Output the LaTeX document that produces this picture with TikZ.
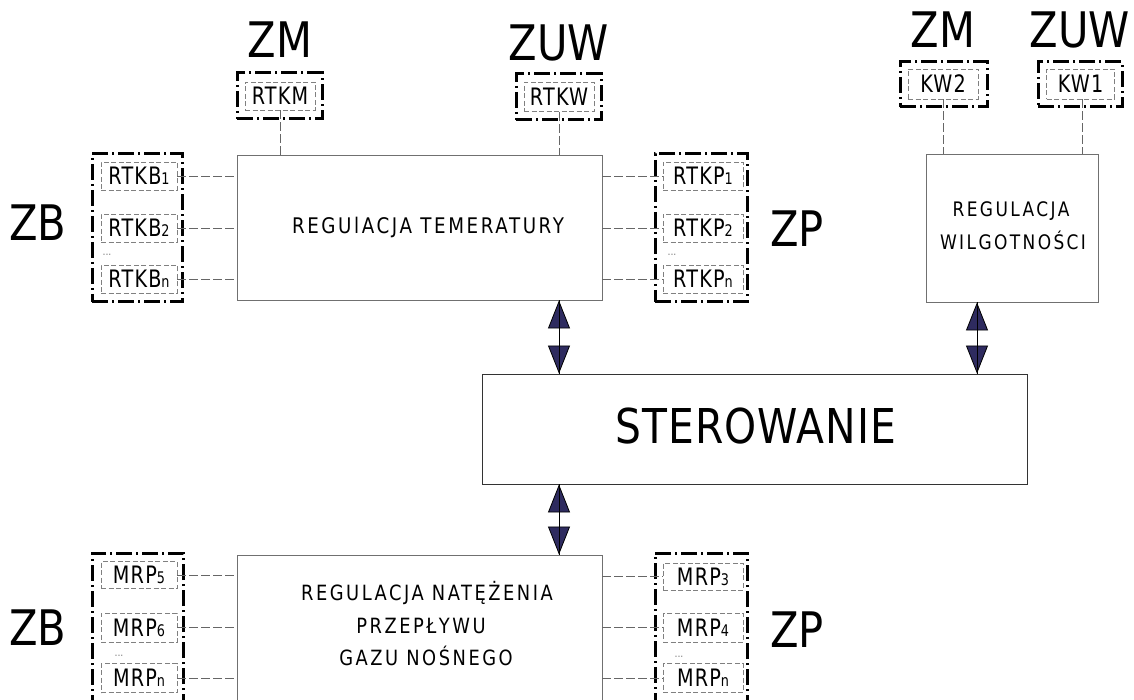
\documentclass[tikz,border=0pt]{standalone}
\usepackage{fontspec}
\setmainfont{DejaVu Sans}[FakeStretch=0.85]
\newfontfamily\spfont{DejaVu Sans}[FakeStretch=0.85,LetterSpace=12]
\newfontfamily\itfont{DejaVu Sans}[FakeStretch=0.8,LetterSpace=5]
\newfontfamily\stfont{DejaVu Sans}[FakeStretch=0.85,LetterSpace=2]
\usetikzlibrary{arrows.meta}
\definecolor{navyfill}{HTML}{2E2B5F}
\definecolor{boxgray}{HTML}{707070}
\newcommand\idx[1]{{\fontsize{16}{16}\selectfont #1}}
\newcommand\fsz[1]{\fontsize{#1}{#1}\selectfont}
\begin{document}
\begin{tikzpicture}[x=1pt,y=-1pt,
  mainbox/.style={draw=boxgray,line width=0.9pt,rectangle,inner sep=0pt},
  groupbox/.style={draw=black,line width=3pt,dash pattern=on 16pt off 4pt on 2pt off 4pt,inner sep=0pt},
  itembox/.style={draw=gray,line width=0.9pt,dash pattern=on 5pt off 2.5pt,inner sep=0pt,font=\itfont\fsz{24},text=black},
  link/.style={draw=gray!80!black,line width=0.8pt,dash pattern=on 9pt off 3pt},
  biglabel/.style={font=\fsz{49},anchor=base},
  midtext/.style={font=\spfont\fsz{21.5},anchor=base},
  dots/.style={font=\fsz{11},text=gray,inner sep=0pt},
  duplex/.style={line width=0.8pt,draw=black,{Triangle[length=28pt,width=22pt,fill=navyfill]}-{Triangle[length=28pt,width=22pt,fill=navyfill]}},
  thinline/.style={line width=0.8pt,draw=black}
]
\useasboundingbox (0,0) rectangle (1134,700);
\clip (0,0) rectangle (1134,700);

% main boxes
\node[mainbox,minimum width=365pt,minimum height=145pt] (temp) at (419.5,227.5) {};
\node[midtext] (temptxt) at (428,234) {REGUlACJA TEMERATURY};
\node[mainbox,minimum width=172pt,minimum height=148pt] (hum) at (1012,228) {};
\node[midtext,font=\spfont\fsz{20}] (hum1) at (1011,217) {REGULACJA};
\node[midtext,font=\spfont\fsz{20}] (hum2) at (1013,250) {WILGOTNOŚCI};
\node[mainbox,draw=black!80,minimum width=545pt,minimum height=110pt] (ster) at (754.5,429) {};
\node[font=\stfont\fsz{48},anchor=base] (stertxt) at (756,443) {STEROWANIE};
\node[mainbox,minimum width=365pt,minimum height=170pt] (nat) at (419.5,640) {};
\node[midtext,font=\spfont\fsz{21}] (nat1) at (427,600) {REGULACJA NATĘŻENIA};
\node[midtext,font=\spfont\fsz{21}] (nat2) at (421,633) {PRZEPŁYWU};
\node[midtext,font=\spfont\fsz{21}] (nat3) at (426,665) {GAZU NOŚNEGO};

% top small boxes
\node[groupbox,minimum width=85pt,minimum height=46pt] (rtkmg) at (279.5,96) {};
\node[itembox,minimum width=70pt,minimum height=28pt] (rtkm) at (280,96) {RTKM};
\node[biglabel] (zm1) at (280,58) {ZM};
\node[groupbox,minimum width=85pt,minimum height=46pt] (rtkwg) at (558.5,97) {};
\node[itembox,minimum width=70pt,minimum height=29pt] (rtkw) at (559,97) {RTKW};
\node[biglabel] (zuw1) at (559,61) {ZUW};
\node[groupbox,minimum width=87pt,minimum height=45pt] (kw2g) at (943.5,84.5) {};
\node[itembox,minimum width=70pt,minimum height=30pt] (kw2) at (943,84) {KW2};
\node[biglabel] (zm2) at (943,48) {ZM};
\node[groupbox,minimum width=84pt,minimum height=45pt] (kw1g) at (1080,84.5) {};
\node[itembox,minimum width=68pt,minimum height=30pt] (kw1) at (1080.5,84) {KW1};
\node[biglabel] (zuw2) at (1080,48) {ZUW};

\draw[link] (rtkm.south) -- (rtkm.south |- temp.north);
\draw[link] (rtkw.south) -- (rtkw.south |- temp.north);
\draw[link] (kw2.south) -- (kw2.south |- hum.north);
\draw[link] ([xshift=1.5pt]kw1.south) -- ([xshift=1.5pt]kw1.south |- hum.north);

% left temperature group
\node[groupbox,minimum width=90pt,minimum height=148pt] (zbg1) at (137,228) {};
\node[itembox,minimum width=76pt,minimum height=28pt] (b1) at (139,176) {RTKB\idx{1}};
\node[itembox,minimum width=76pt,minimum height=28pt] (b2) at (139,228) {RTKB\idx{2}};
\node[itembox,minimum width=76pt,minimum height=28pt] (bn) at (139,279) {RTKB\idx{n}};
\node[dots] (bd) at (107,255) {...};
\node[biglabel] (zb1) at (38,241) {ZB};
\foreach \n in {b1,b2,bn} \draw[link] (\n.east) -- (\n.east -| temp.west);

% right temperature group
\node[groupbox,minimum width=92pt,minimum height=148pt] (zpg1) at (701,228) {};
\node[itembox,minimum width=80pt,minimum height=28pt] (p1) at (703,176) {RTKP\idx{1}};
\node[itembox,minimum width=80pt,minimum height=28pt] (p2) at (703,228) {RTKP\idx{2}};
\node[itembox,minimum width=80pt,minimum height=28pt] (pn) at (703,279) {RTKP\idx{n}};
\node[dots] (pd) at (672,255) {...};
\node[biglabel] (zp1) at (797,247) {ZP};
\foreach \n in {p1,p2,pn} \draw[link] (\n.west -| temp.east) -- (\n.west);

% bottom left group
\node[groupbox,minimum width=91pt,minimum height=170pt] (zbg2) at (137.5,638) {};
\node[itembox,minimum width=76pt,minimum height=27pt] (m5) at (139,575) {MRP\idx{5}};
\node[itembox,minimum width=76pt,minimum height=29pt] (m6) at (139,627.5) {MRP\idx{6}};
\node[itembox,minimum width=76pt,minimum height=29pt] (mn1) at (139,678) {MRP\idx{n}};
\node[dots] (md1) at (119,656) {...};
\node[biglabel] (zb2) at (38,645) {ZB};
\foreach \n in {m5,m6,mn1} \draw[link] (\n.east) -- (\n.east -| nat.west);

% bottom right group
\node[groupbox,minimum width=92pt,minimum height=170pt] (zpg2) at (701,638) {};
\node[itembox,minimum width=80pt,minimum height=27pt] (m3) at (703,576.5) {MRP\idx{3}};
\node[itembox,minimum width=80pt,minimum height=29pt] (m4) at (703,627.5) {MRP\idx{4}};
\node[itembox,minimum width=80pt,minimum height=29pt] (mn2) at (703,678) {MRP\idx{n}};
\node[dots] (md2) at (679,657) {...};
\node[biglabel] (zp2) at (797,647) {ZP};
\foreach \n in {m3,m4,mn2} \draw[link] (\n.west -| nat.east) -- (\n.west);

% duplex arrows
\coordinate (ax1) at (559,0);
\coordinate (ax2) at (977,0);
\draw[duplex] (temp.south -| ax1) -- (ster.north -| ax1);
\draw[thinline] (temp.south -| ax1) -- (ster.north -| ax1);
\draw[duplex] (hum.south -| ax2) -- (ster.north -| ax2);
\draw[thinline] (hum.south -| ax2) -- (ster.north -| ax2);
\draw[duplex] (ster.south -| ax1) -- (nat.north -| ax1);
\draw[thinline] (ster.south -| ax1) -- (nat.north -| ax1);
\end{tikzpicture}
\end{document}
